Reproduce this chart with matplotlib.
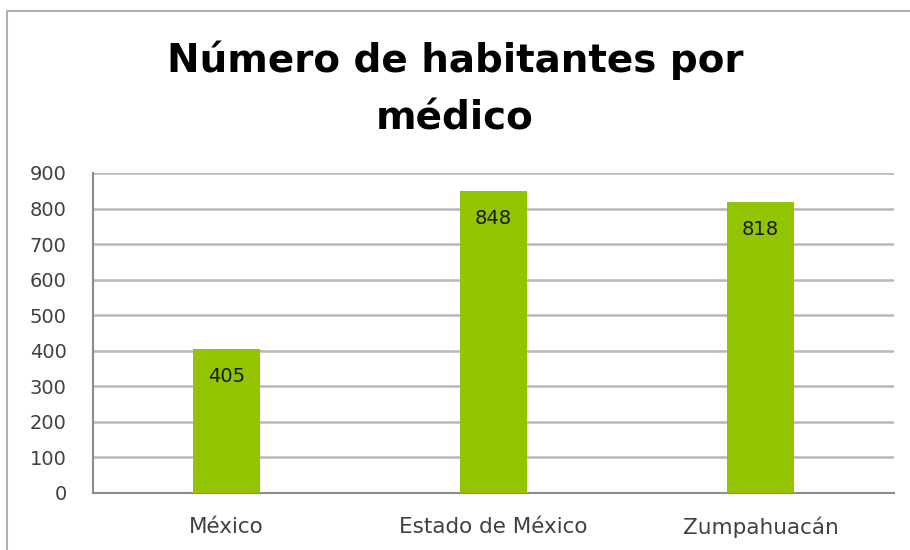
import matplotlib.pyplot as plt
from matplotlib.patches import Rectangle

categories = ['México', 'Estado de México', 'Zumpahuacán']
values = [405, 848, 818]
yticks = [0, 100, 200, 300, 400, 500, 600, 700, 800, 900]

plt.rcParams['font.family'] = ['DejaVu Sans']

fig = plt.figure(figsize=(9.1, 5.5), dpi=100)
# outer chart frame
fig.patches.append(Rectangle((7 / 910, -0.1), 1.1, 1 - 11 / 550 + 0.1,
                             transform=fig.transFigure, fill=False,
                             edgecolor='#b0b0b0', linewidth=1.5))

ax = fig.add_axes([93 / 910, 1 - 493 / 550, 801 / 910, 320 / 550])
x = range(len(categories))
bars = ax.bar(x, values, width=0.25, color='#92c400', zorder=3)
for b, v in zip(bars, values):
    ax.annotate(str(v), (b.get_x() + b.get_width() / 2, v), xytext=(0, -19.5),
                textcoords='offset points', ha='center', va='center',
                fontsize=14, color='#1a1a1a', zorder=4)

ax.set_xlim(-0.5, 2.5)
ax.set_ylim(0, 900)
ax.set_yticks(yticks)
ax.set_xticks(list(x))
ax.set_xticklabels(categories)
ax.yaxis.grid(True, color='#b8b8b8', linewidth=1.8, zorder=0)
for s in ['top', 'right']:
    ax.spines[s].set_visible(False)
for s in ['left', 'bottom']:
    ax.spines[s].set_color('#8c8c8c')
    ax.spines[s].set_linewidth(1.5)
ax.tick_params(axis='y', length=0, pad=19, labelsize=14, labelcolor='#404040')
ax.tick_params(axis='x', length=0, pad=17, labelsize=15.5, labelcolor='#404040')

fig.text(0.5, 1 - 89 / 550, 'Número de habitantes por\nmédico', ha='center',
         va='center', fontsize=28, fontweight='bold', linespacing=1.65)

fig.savefig('out.png')
